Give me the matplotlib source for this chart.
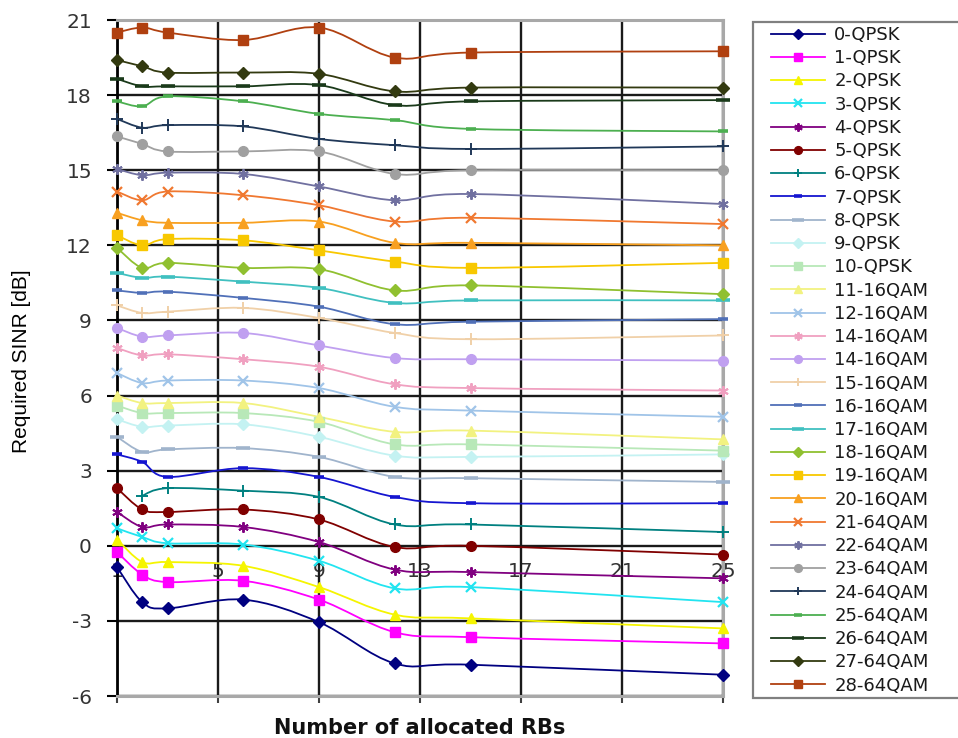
import matplotlib as mpl
import matplotlib.pyplot as plt
import numpy as np
from matplotlib.lines import Line2D
from matplotlib.patches import PathPatch, Rectangle
from matplotlib.path import Path

mpl.rcParams["font.family"] = ["DejaVu Sans"]
mpl.rcParams["axes.unicode_minus"] = False

# ── data ────────────────────────────────────────────────────────
RBS = [1, 2, 3, 6, 9, 12, 15, 25]
XTICKS = [1, 5, 9, 13, 17, 21, 25]
YTICKS = list(range(-6, 22, 3))

LABELS = [
    "0-QPSK", "1-QPSK", "2-QPSK", "3-QPSK", "4-QPSK", "5-QPSK", "6-QPSK",
    "7-QPSK", "8-QPSK", "9-QPSK", "10-QPSK", "11-16QAM", "12-16QAM",
    "14-16QAM", "14-16QAM", "15-16QAM", "16-16QAM", "17-16QAM", "18-16QAM",
    "19-16QAM", "20-16QAM", "21-64QAM", "22-64QAM", "23-64QAM", "24-64QAM",
    "25-64QAM", "26-64QAM", "27-64QAM", "28-64QAM",
]

SINR_00 = [-0.85, -2.25, -2.5, -2.15, -3.05, -4.7, -4.75, -5.15]
SINR_01 = [-0.25, -1.15, -1.45, -1.4, -2.15, -3.45, -3.65, -3.9]
SINR_02 = [0.25, -0.65, -0.65, -0.8, -1.65, -2.75, -2.9, -3.3]
SINR_03 = [0.7, 0.35, 0.1, 0.05, -0.6, -1.7, -1.65, -2.25]
SINR_04 = [1.35, 0.75, 0.85, 0.75, 0.15, -0.95, -1.05, -1.3]
SINR_05 = [2.3, 1.45, 1.35, 1.45, 1.05, -0.05, 0.0, -0.35]
SINR_06 = [np.nan, 2.0, 2.3, 2.2, 1.95, 0.85, 0.85, 0.55]
SINR_07 = [3.65, 3.35, 2.75, 3.1, 2.75, 1.95, 1.7, 1.7]
SINR_08 = [4.35, 3.75, 3.85, 3.9, 3.55, 2.75, 2.7, 2.55]
SINR_09 = [5.05, 4.75, 4.8, 4.85, 4.35, 3.6, 3.55, 3.65]
SINR_10 = [5.6, 5.3, 5.3, 5.3, 4.95, 4.05, 4.05, 3.8]
SINR_11 = [6.0, 5.7, 5.7, 5.7, 5.15, 4.55, 4.6, 4.25]
SINR_12 = [6.9, 6.5, 6.6, 6.6, 6.3, 5.55, 5.4, 5.15]
SINR_13 = [7.9, 7.6, 7.65, 7.45, 7.15, 6.45, 6.3, 6.2]
SINR_14 = [8.7, 8.35, 8.4, 8.5, 8.0, 7.5, 7.45, 7.4]
SINR_15 = [9.6, 9.3, 9.35, 9.5, 9.1, 8.5, 8.25, 8.4]
SINR_16 = [10.2, 10.1, 10.15, 9.9, 9.55, 8.85, 8.95, 9.05]
SINR_17 = [10.9, 10.7, 10.75, 10.55, 10.3, 9.7, 9.8, 9.8]
SINR_18 = [11.9, 11.1, 11.3, 11.1, 11.05, 10.2, 10.4, 10.05]
SINR_19 = [12.4, 12.0, 12.25, 12.2, 11.8, 11.35, 11.1, 11.3]
SINR_20 = [13.3, 13.0, 12.9, 12.9, 12.95, 12.1, 12.1, 12.0]
SINR_21 = [14.15, 13.8, 14.15, 14.0, 13.6, 12.95, 13.1, 12.85]
SINR_22 = [15.05, 14.8, 14.9, 14.85, 14.35, 13.8, 14.05, 13.65]
SINR_23 = [16.35, 16.05, 15.75, 15.75, 15.75, 14.85, 15.0, 15.0]
SINR_24 = [17.05, 16.7, 16.8, 16.75, 16.25, 16.0, 15.85, 15.95]
SINR_25 = [17.75, 17.55, 17.95, 17.75, 17.25, 17.0, 16.65, 16.55]
SINR_26 = [18.65, 18.35, 18.35, 18.35, 18.4, 17.6, 17.75, 17.8]
SINR_27 = [19.4, 19.15, 18.9, 18.9, 18.85, 18.15, 18.3, 18.3]
SINR_28 = [20.5, 20.7, 20.5, 20.2, 20.7, 19.5, 19.7, 19.75]

SERIES = [
    SINR_00, SINR_01, SINR_02, SINR_03, SINR_04, SINR_05, SINR_06, SINR_07,
    SINR_08, SINR_09, SINR_10, SINR_11, SINR_12, SINR_13, SINR_14, SINR_15,
    SINR_16, SINR_17, SINR_18, SINR_19, SINR_20, SINR_21, SINR_22, SINR_23,
    SINR_24, SINR_25, SINR_26, SINR_27, SINR_28,
]

# ── styles (Excel-like palette and marker cycle) ────────────────
COLORS = [
    "#000080", "#FF00FF", "#F5F500", "#22E4F0", "#800080", "#800000",
    "#008080", "#1515D0", "#A0B4CC", "#C4F2F2", "#B8E8B8", "#F2F280",
    "#A0C4E8", "#F0A0C0", "#C0A0F0", "#F0D0A8", "#5070B8", "#40C0C0",
    "#90C030", "#F8C800", "#F8A020", "#F07830", "#7070A0", "#A0A0A0",
    "#203858", "#4CAF50", "#1A3A1A", "#333A10", "#B04010",
]
MARKER_CYCLE = [
    ("D", 6.0, 1.0),
    ("s", 6.5, 1.0),
    ("^", 7.5, 1.0),
    ("x", 6.5, 1.6),
    ((6, 2, 0), 7.5, 1.4),
    ("o", 7.0, 1.0),
    ("+", 8.0, 1.4),
    ("_", 7.0, 2.6),
    ("_", 10.0, 2.6),
]

XMIN, XMAX = 1, 25
YMIN, YMAX = -6, 21


def smooth_path(x, y):
    """Excel-style smoothed line: Catmull-Rom segments as cubic Beziers."""
    pts = np.column_stack([x, y]).astype(float)
    pts = pts[~np.isnan(pts[:, 1])]
    n = len(pts)
    verts = [pts[0]]
    codes = [Path.MOVETO]
    for i in range(n - 1):
        p_prev = pts[max(i - 1, 0)]
        p_next = pts[min(i + 2, n - 1)]
        c1 = pts[i] + (pts[i + 1] - p_prev) / 6.0
        c2 = pts[i + 1] - (p_next - pts[i]) / 6.0
        verts += [c1, c2, pts[i + 1]]
        codes += [Path.CURVE4] * 3
    return Path(verts, codes)


def main():
    fig = plt.figure(figsize=(9.58, 7.38), dpi=100)
    ax = fig.add_axes([117 / 958, 1 - 696 / 738, 606 / 958, 676 / 738])

    ax.set_xlim(XMIN, XMAX)
    ax.set_ylim(YMIN, YMAX)
    ax.set_xticks(XTICKS)
    ax.set_yticks(YTICKS)
    ax.grid(True, color="#1a1a1a", lw=1.7)
    ax.set_axisbelow(True)

    for side in ["top", "right", "bottom"]:
        ax.spines[side].set_color("#a8a8a8")
        ax.spines[side].set_linewidth(2.2)
    ax.spines["left"].set_color("black")
    ax.spines["left"].set_linewidth(2.0)

    ax.tick_params(axis="x", labelbottom=False, length=5, width=1.5,
                   color="#404040", direction="out")
    ax.tick_params(axis="y", length=7, width=1.5, color="black",
                   direction="out", pad=11, labelsize=14.5,
                   labelcolor="#333333")

    # x tick labels sit along the y = 0 line
    y0 = (0 - YMIN) / (YMAX - YMIN)
    sec = ax.secondary_xaxis(y0)
    sec.set_xticks(XTICKS)
    sec.tick_params(length=0, pad=12, labelsize=14.5, labelcolor="#333333")
    for sp in sec.spines.values():
        sp.set_visible(False)

    handles = []
    for i, vals in enumerate(SERIES):
        color = COLORS[i]
        marker, ms, mew = MARKER_CYCLE[i % len(MARKER_CYCLE)]
        ax.add_patch(PathPatch(smooth_path(RBS, vals), facecolor="none",
                               edgecolor=color, lw=1.3, zorder=2))
        ax.plot(RBS, vals, ls="none", marker=marker, ms=ms, mew=mew,
                color=color, mec=color, mfc=color, zorder=3, clip_on=False)
        handles.append(Line2D([], [], color=color, lw=1.3, marker=marker,
                              ms=ms * 0.8, mew=mew, mec=color, mfc=color))

    ax.set_ylabel("Required SINR [dB]", fontsize=15,
                  family=["Liberation Sans Narrow", "Liberation Sans",
                          "DejaVu Sans"])
    ax.yaxis.set_label_coords(-0.142, 0.496)
    ax.set_xlabel("Number of allocated RBs", fontsize=15, fontweight="bold",
                  color="#111111")
    ax.xaxis.set_label_coords(0.5, -0.032)

    # legend box (runs past the right edge like the original)
    fig.add_artist(Rectangle((753 / 958, 1 - 698 / 738), 230 / 958,
                             676 / 738, transform=fig.transFigure,
                             facecolor="white", edgecolor="#808080",
                             lw=1.6, zorder=1))
    fig.legend(handles, LABELS, loc="upper left",
               bbox_to_anchor=(771 / 958, 1 - 26 / 738), frameon=False,
               borderpad=0, fontsize=13, handlelength=3.0,
               handletextpad=0.5, labelspacing=0.29, borderaxespad=0,
               labelcolor="#1a1a1a")

    fig.savefig("out.png", dpi=100)
    plt.close(fig)


if __name__ == "__main__":
    main()
